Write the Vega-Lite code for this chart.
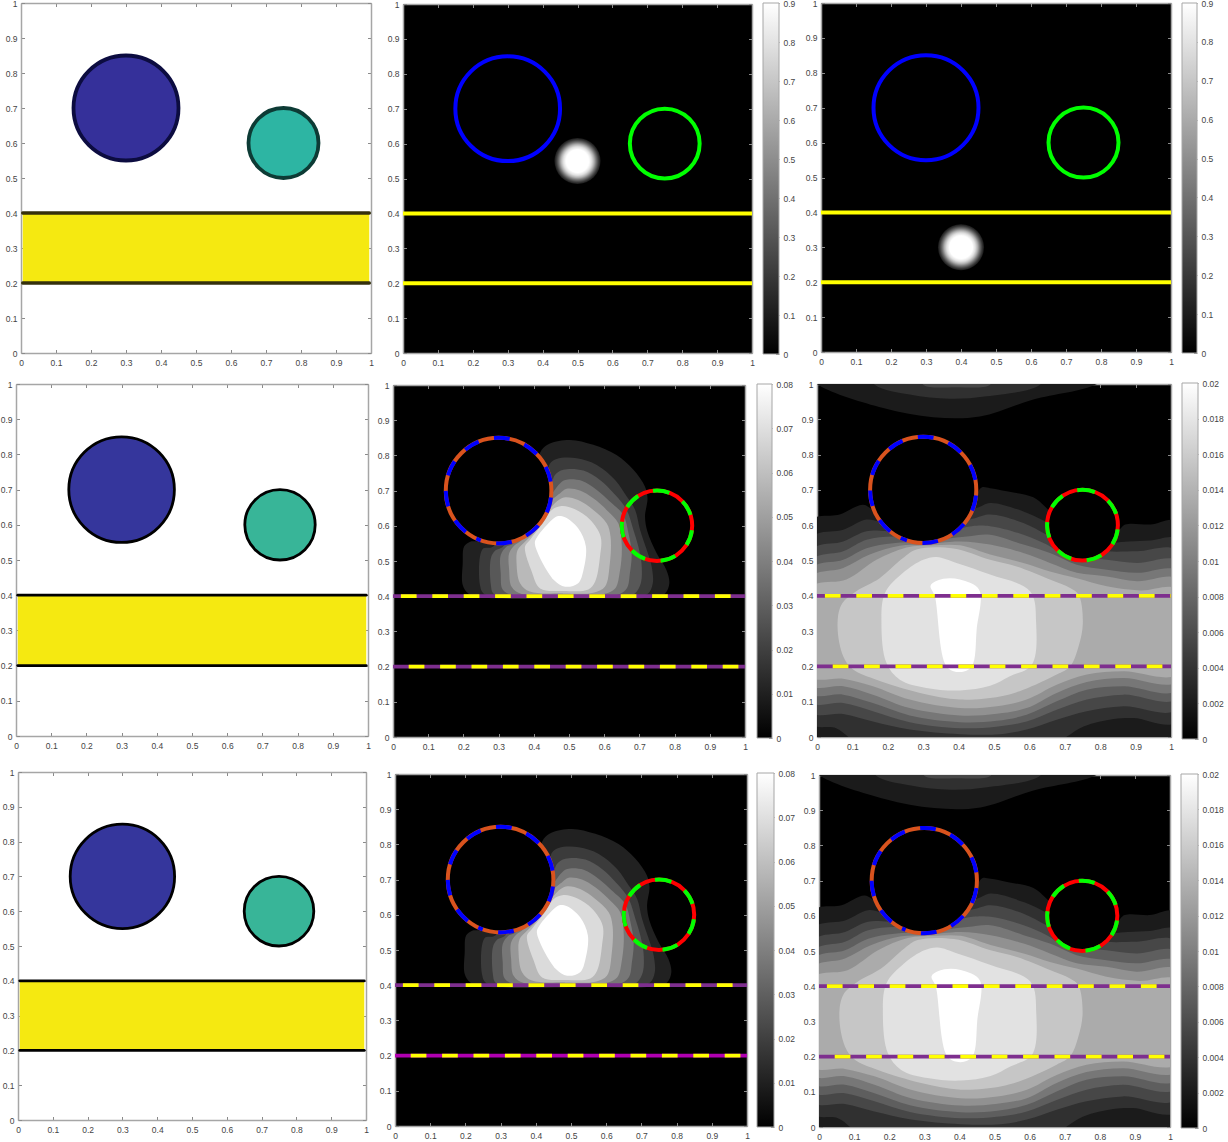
{"$schema":"https://vega.github.io/schema/vega-lite/v6.json","background":"white","padding":{"left":0,"top":-1,"right":0,"bottom":0},"spacing":0,"bounds":"flush",
"datasets":{
"frame":[{"x":0,"y":0},{"x":1,"y":1}],
"big":[{"x":0.3,"y":0.7}],"small":[{"x":0.75,"y":0.6}],
"b2":[{"x":0.5,"y":0.55}],"b3":[{"x":0.4,"y":0.3}],
"band":[{"x":0.005,"x2":0.995,"y":0.2,"y2":0.4}],
"edge":[{"x":0.005,"x2":0.995,"y":0.2},{"x":0.005,"x2":0.995,"y":0.4}],
"l2":[{"x":0,"x2":1,"y":0.2}],"l4":[{"x":0,"x2":1,"y":0.4}],"ll":[{"x":0,"x2":1,"y":0.2},{"x":0,"x2":1,"y":0.4}],
"ca":[
{"l":1.25,"x":0.422,"y":0.815},{"l":1.25,"x":0.446,"y":0.834},{"l":1.25,"x":0.503,"y":0.844},{"l":1.25,"x":0.569,"y":0.83},{"l":1.25,"x":0.635,"y":0.801},{"l":1.25,"x":0.683,"y":0.759},{"l":1.25,"x":0.716,"y":0.711},{"l":1.25,"x":0.723,"y":0.678},{"l":1.25,"x":0.716,"y":0.626},{"l":1.25,"x":0.723,"y":0.583},{"l":1.25,"x":0.749,"y":0.522},{"l":1.25,"x":0.777,"y":0.474},{"l":1.25,"x":0.785,"y":0.437},{"l":1.25,"x":0.773,"y":0.408},{"l":1.25,"x":0.73,"y":0.396},{"l":1.25,"x":0.541,"y":0.394},{"l":1.25,"x":0.257,"y":0.396},{"l":1.25,"x":0.214,"y":0.408},{"l":1.25,"x":0.198,"y":0.432},{"l":1.25,"x":0.198,"y":0.493},{"l":1.25,"x":0.202,"y":0.541},{"l":1.25,"x":0.219,"y":0.555},{"l":1.25,"x":0.257,"y":0.56},{"l":1.25,"x":0.351,"y":0.683},{"l":1.25,"x":0.408,"y":0.777},
{"l":2.5,"x":0.446,"y":0.777},{"l":2.5,"x":0.465,"y":0.79},{"l":2.5,"x":0.522,"y":0.792},{"l":2.5,"x":0.579,"y":0.773},{"l":2.5,"x":0.631,"y":0.73},{"l":2.5,"x":0.664,"y":0.683},{"l":2.5,"x":0.688,"y":0.645},{"l":2.5,"x":0.702,"y":0.588},{"l":2.5,"x":0.721,"y":0.531},{"l":2.5,"x":0.735,"y":0.484},{"l":2.5,"x":0.738,"y":0.437},{"l":2.5,"x":0.725,"y":0.408},{"l":2.5,"x":0.692,"y":0.399},{"l":2.5,"x":0.493,"y":0.396},{"l":2.5,"x":0.294,"y":0.399},{"l":2.5,"x":0.257,"y":0.408},{"l":2.5,"x":0.247,"y":0.432},{"l":2.5,"x":0.247,"y":0.512},{"l":2.5,"x":0.257,"y":0.536},{"l":2.5,"x":0.285,"y":0.541},{"l":2.5,"x":0.351,"y":0.683},{"l":2.5,"x":0.437,"y":0.749},
{"l":3.75,"x":0.46,"y":0.744},{"l":3.75,"x":0.484,"y":0.759},{"l":3.75,"x":0.541,"y":0.757},{"l":3.75,"x":0.588,"y":0.73},{"l":3.75,"x":0.631,"y":0.688},{"l":3.75,"x":0.664,"y":0.645},{"l":3.75,"x":0.683,"y":0.588},{"l":3.75,"x":0.697,"y":0.541},{"l":3.75,"x":0.706,"y":0.493},{"l":3.75,"x":0.704,"y":0.437},{"l":3.75,"x":0.687,"y":0.408},{"l":3.75,"x":0.654,"y":0.399},{"l":3.75,"x":0.493,"y":0.397},{"l":3.75,"x":0.323,"y":0.399},{"l":3.75,"x":0.285,"y":0.408},{"l":3.75,"x":0.278,"y":0.432},{"l":3.75,"x":0.278,"y":0.508},{"l":3.75,"x":0.29,"y":0.529},{"l":3.75,"x":0.313,"y":0.541},{"l":3.75,"x":0.37,"y":0.664},{"l":3.75,"x":0.446,"y":0.711},
{"l":5,"x":0.47,"y":0.716},{"l":5,"x":0.489,"y":0.73},{"l":5,"x":0.536,"y":0.728},{"l":5,"x":0.579,"y":0.702},{"l":5,"x":0.616,"y":0.669},{"l":5,"x":0.654,"y":0.631},{"l":5,"x":0.669,"y":0.579},{"l":5,"x":0.678,"y":0.522},{"l":5,"x":0.673,"y":0.465},{"l":5,"x":0.664,"y":0.422},{"l":5,"x":0.635,"y":0.403},{"l":5,"x":0.493,"y":0.401},{"l":5,"x":0.342,"y":0.403},{"l":5,"x":0.312,"y":0.418},{"l":5,"x":0.306,"y":0.465},{"l":5,"x":0.306,"y":0.517},{"l":5,"x":0.323,"y":0.541},{"l":5,"x":0.342,"y":0.55},{"l":5,"x":0.389,"y":0.654},{"l":5,"x":0.451,"y":0.692},
{"l":6.25,"x":0.474,"y":0.692},{"l":6.25,"x":0.493,"y":0.705},{"l":6.25,"x":0.531,"y":0.7},{"l":6.25,"x":0.569,"y":0.678},{"l":6.25,"x":0.612,"y":0.64},{"l":6.25,"x":0.64,"y":0.607},{"l":6.25,"x":0.65,"y":0.541},{"l":6.25,"x":0.645,"y":0.474},{"l":6.25,"x":0.631,"y":0.422},{"l":6.25,"x":0.598,"y":0.406},{"l":6.25,"x":0.493,"y":0.403},{"l":6.25,"x":0.366,"y":0.406},{"l":6.25,"x":0.337,"y":0.427},{"l":6.25,"x":0.33,"y":0.474},{"l":6.25,"x":0.33,"y":0.522},{"l":6.25,"x":0.347,"y":0.546},{"l":6.25,"x":0.366,"y":0.56},{"l":6.25,"x":0.408,"y":0.626},{"l":6.25,"x":0.456,"y":0.678},
{"l":7.5,"x":0.465,"y":0.669},{"l":7.5,"x":0.489,"y":0.681},{"l":7.5,"x":0.526,"y":0.673},{"l":7.5,"x":0.569,"y":0.645},{"l":7.5,"x":0.607,"y":0.607},{"l":7.5,"x":0.618,"y":0.569},{"l":7.5,"x":0.616,"y":0.493},{"l":7.5,"x":0.602,"y":0.427},{"l":7.5,"x":0.569,"y":0.41},{"l":7.5,"x":0.484,"y":0.408},{"l":7.5,"x":0.389,"y":0.413},{"l":7.5,"x":0.361,"y":0.437},{"l":7.5,"x":0.351,"y":0.493},{"l":7.5,"x":0.354,"y":0.531},{"l":7.5,"x":0.375,"y":0.555},{"l":7.5,"x":0.399,"y":0.579},{"l":7.5,"x":0.437,"y":0.635},
{"l":8.75,"x":0.451,"y":0.645},{"l":8.75,"x":0.479,"y":0.656},{"l":8.75,"x":0.517,"y":0.647},{"l":8.75,"x":0.56,"y":0.617},{"l":8.75,"x":0.59,"y":0.569},{"l":8.75,"x":0.588,"y":0.512},{"l":8.75,"x":0.574,"y":0.441},{"l":8.75,"x":0.555,"y":0.419},{"l":8.75,"x":0.484,"y":0.415},{"l":8.75,"x":0.418,"y":0.422},{"l":8.75,"x":0.394,"y":0.47},{"l":8.75,"x":0.375,"y":0.541},{"l":8.75,"x":0.389,"y":0.56},{"l":8.75,"x":0.422,"y":0.602},
{"l":10,"x":0.456,"y":0.621},{"l":10,"x":0.47,"y":0.628},{"l":10,"x":0.489,"y":0.624},{"l":10,"x":0.526,"y":0.593},{"l":10,"x":0.548,"y":0.541},{"l":10,"x":0.541,"y":0.474},{"l":10,"x":0.526,"y":0.437},{"l":10,"x":0.489,"y":0.427},{"l":10,"x":0.457,"y":0.446},{"l":10,"x":0.403,"y":0.55},{"l":10,"x":0.41,"y":0.569}
],
"cb":[
{"p":1,"l":1,"x":-0.02,"y":0.611},{"p":1,"l":1,"x":0.064,"y":0.63},{"p":1,"l":1,"x":0.13,"y":0.658},{"p":1,"l":1,"x":0.168,"y":0.639},{"p":1,"l":1,"x":0.299,"y":0.63},{"p":1,"l":1,"x":0.442,"y":0.677},{"p":1,"l":1,"x":0.465,"y":0.707},{"p":1,"l":1,"x":0.489,"y":0.705},{"p":1,"l":1,"x":0.536,"y":0.696},{"p":1,"l":1,"x":0.611,"y":0.679},{"p":1,"l":1,"x":0.644,"y":0.653},{"p":1,"l":1,"x":0.706,"y":0.592},{"p":1,"l":1,"x":0.847,"y":0.583},{"p":1,"l":1,"x":0.871,"y":0.602},{"p":1,"l":1,"x":0.942,"y":0.602},{"p":1,"l":1,"x":1.02,"y":0.609},{"p":1,"l":1,"x":1.05,"y":-0.05},{"p":1,"l":1,"x":-0.05,"y":-0.05},
{"p":2,"l":2,"x":-0.02,"y":0.561},{"p":2,"l":2,"x":0.074,"y":0.587},{"p":2,"l":2,"x":0.14,"y":0.616},{"p":2,"l":2,"x":0.177,"y":0.611},{"p":2,"l":2,"x":0.299,"y":0.611},{"p":2,"l":2,"x":0.451,"y":0.649},{"p":2,"l":2,"x":0.489,"y":0.663},{"p":2,"l":2,"x":0.583,"y":0.639},{"p":2,"l":2,"x":0.644,"y":0.611},{"p":2,"l":2,"x":0.75,"y":0.55},{"p":2,"l":2,"x":0.88,"y":0.554},{"p":2,"l":2,"x":0.942,"y":0.557},{"p":2,"l":2,"x":1.02,"y":0.559},{"p":2,"l":2,"x":1.02,"y":0.044},{"p":2,"l":2,"x":0.894,"y":0.054},{"p":2,"l":2,"x":0.838,"y":0.051},{"p":2,"l":2,"x":0.753,"y":0.03},{"p":2,"l":2,"x":0.658,"y":-0.02},{"p":2,"l":2,"x":0.126,"y":-0.02},{"p":2,"l":2,"x":0.054,"y":0.025},{"p":2,"l":2,"x":-0.02,"y":0.04},
{"p":3,"l":3,"x":-0.02,"y":0.526},{"p":3,"l":3,"x":0.074,"y":0.554},{"p":3,"l":3,"x":0.14,"y":0.583},{"p":3,"l":3,"x":0.201,"y":0.583},{"p":3,"l":3,"x":0.299,"y":0.583},{"p":3,"l":3,"x":0.446,"y":0.62},{"p":3,"l":3,"x":0.489,"y":0.63},{"p":3,"l":3,"x":0.583,"y":0.606},{"p":3,"l":3,"x":0.649,"y":0.573},{"p":3,"l":3,"x":0.72,"y":0.54},{"p":3,"l":3,"x":0.819,"y":0.526},{"p":3,"l":3,"x":0.904,"y":0.526},{"p":3,"l":3,"x":1.02,"y":0.526},{"p":3,"l":3,"x":1.02,"y":0.08},{"p":3,"l":3,"x":0.866,"y":0.087},{"p":3,"l":3,"x":0.762,"y":0.073},{"p":3,"l":3,"x":0.677,"y":0.049},{"p":3,"l":3,"x":0.592,"y":0.021},{"p":3,"l":3,"x":0.517,"y":0.008},{"p":3,"l":3,"x":0.404,"y":0.008},{"p":3,"l":3,"x":0.262,"y":0.021},{"p":3,"l":3,"x":0.158,"y":0.044},{"p":3,"l":3,"x":0.074,"y":0.065},{"p":3,"l":3,"x":-0.02,"y":0.073},
{"p":4,"l":4,"x":-0.02,"y":0.497},{"p":4,"l":4,"x":0.074,"y":0.526},{"p":4,"l":4,"x":0.14,"y":0.559},{"p":4,"l":4,"x":0.215,"y":0.568},{"p":4,"l":4,"x":0.299,"y":0.564},{"p":4,"l":4,"x":0.437,"y":0.597},{"p":4,"l":4,"x":0.489,"y":0.597},{"p":4,"l":4,"x":0.583,"y":0.573},{"p":4,"l":4,"x":0.649,"y":0.545},{"p":4,"l":4,"x":0.696,"y":0.517},{"p":4,"l":4,"x":0.819,"y":0.502},{"p":4,"l":4,"x":0.904,"y":0.493},{"p":4,"l":4,"x":1.02,"y":0.497},{"p":4,"l":4,"x":1.02,"y":0.11},{"p":4,"l":4,"x":0.866,"y":0.12},{"p":4,"l":4,"x":0.762,"y":0.106},{"p":4,"l":4,"x":0.677,"y":0.077},{"p":4,"l":4,"x":0.592,"y":0.044},{"p":4,"l":4,"x":0.506,"y":0.029},{"p":4,"l":4,"x":0.404,"y":0.025},{"p":4,"l":4,"x":0.262,"y":0.042},{"p":4,"l":4,"x":0.158,"y":0.073},{"p":4,"l":4,"x":0.074,"y":0.096},{"p":4,"l":4,"x":-0.02,"y":0.101},
{"p":5,"l":5,"x":-0.02,"y":0.474},{"p":5,"l":5,"x":0.074,"y":0.502},{"p":5,"l":5,"x":0.14,"y":0.535},{"p":5,"l":5,"x":0.215,"y":0.549},{"p":5,"l":5,"x":0.299,"y":0.554},{"p":5,"l":5,"x":0.423,"y":0.568},{"p":5,"l":5,"x":0.489,"y":0.573},{"p":5,"l":5,"x":0.583,"y":0.545},{"p":5,"l":5,"x":0.658,"y":0.521},{"p":5,"l":5,"x":0.734,"y":0.488},{"p":5,"l":5,"x":0.819,"y":0.474},{"p":5,"l":5,"x":0.904,"y":0.465},{"p":5,"l":5,"x":1.02,"y":0.469},{"p":5,"l":5,"x":1.02,"y":0.134},{"p":5,"l":5,"x":0.866,"y":0.144},{"p":5,"l":5,"x":0.762,"y":0.134},{"p":5,"l":5,"x":0.677,"y":0.101},{"p":5,"l":5,"x":0.592,"y":0.063},{"p":5,"l":5,"x":0.508,"y":0.046},{"p":5,"l":5,"x":0.404,"y":0.042},{"p":5,"l":5,"x":0.262,"y":0.061},{"p":5,"l":5,"x":0.158,"y":0.096},{"p":5,"l":5,"x":0.074,"y":0.12},{"p":5,"l":5,"x":-0.02,"y":0.125},
{"p":6,"l":6,"x":-0.02,"y":0.45},{"p":6,"l":6,"x":0.074,"y":0.479},{"p":6,"l":6,"x":0.149,"y":0.517},{"p":6,"l":6,"x":0.234,"y":0.542},{"p":6,"l":6,"x":0.299,"y":0.545},{"p":6,"l":6,"x":0.404,"y":0.554},{"p":6,"l":6,"x":0.489,"y":0.545},{"p":6,"l":6,"x":0.583,"y":0.521},{"p":6,"l":6,"x":0.658,"y":0.493},{"p":6,"l":6,"x":0.734,"y":0.465},{"p":6,"l":6,"x":0.819,"y":0.455},{"p":6,"l":6,"x":0.904,"y":0.441},{"p":6,"l":6,"x":1.02,"y":0.446},{"p":6,"l":6,"x":1.02,"y":0.158},{"p":6,"l":6,"x":0.866,"y":0.167},{"p":6,"l":6,"x":0.762,"y":0.156},{"p":6,"l":6,"x":0.677,"y":0.125},{"p":6,"l":6,"x":0.592,"y":0.082},{"p":6,"l":6,"x":0.508,"y":0.066},{"p":6,"l":6,"x":0.404,"y":0.061},{"p":6,"l":6,"x":0.262,"y":0.082},{"p":6,"l":6,"x":0.158,"y":0.12},{"p":6,"l":6,"x":0.074,"y":0.144},{"p":6,"l":6,"x":-0.02,"y":0.148},
{"p":7,"l":7,"x":-0.02,"y":0.422},{"p":7,"l":7,"x":0.083,"y":0.446},{"p":7,"l":7,"x":0.168,"y":0.502},{"p":7,"l":7,"x":0.253,"y":0.537},{"p":7,"l":7,"x":0.328,"y":0.543},{"p":7,"l":7,"x":0.404,"y":0.543},{"p":7,"l":7,"x":0.489,"y":0.517},{"p":7,"l":7,"x":0.583,"y":0.493},{"p":7,"l":7,"x":0.658,"y":0.469},{"p":7,"l":7,"x":0.734,"y":0.45},{"p":7,"l":7,"x":0.819,"y":0.427},{"p":7,"l":7,"x":0.913,"y":0.415},{"p":7,"l":7,"x":1.02,"y":0.417},{"p":7,"l":7,"x":1.02,"y":0.179},{"p":7,"l":7,"x":0.866,"y":0.186},{"p":7,"l":7,"x":0.762,"y":0.177},{"p":7,"l":7,"x":0.677,"y":0.148},{"p":7,"l":7,"x":0.592,"y":0.106},{"p":7,"l":7,"x":0.508,"y":0.087},{"p":7,"l":7,"x":0.404,"y":0.082},{"p":7,"l":7,"x":0.262,"y":0.106},{"p":7,"l":7,"x":0.158,"y":0.144},{"p":7,"l":7,"x":0.074,"y":0.165},{"p":7,"l":7,"x":-0.02,"y":0.172},
{"p":8,"l":8,"x":0.058,"y":0.314},{"p":8,"l":8,"x":0.069,"y":0.375},{"p":8,"l":8,"x":0.111,"y":0.413},{"p":8,"l":8,"x":0.177,"y":0.45},{"p":8,"l":8,"x":0.243,"y":0.507},{"p":8,"l":8,"x":0.281,"y":0.531},{"p":8,"l":8,"x":0.385,"y":0.534},{"p":8,"l":8,"x":0.489,"y":0.502},{"p":8,"l":8,"x":0.564,"y":0.483},{"p":8,"l":8,"x":0.658,"y":0.446},{"p":8,"l":8,"x":0.715,"y":0.422},{"p":8,"l":8,"x":0.739,"y":0.403},{"p":8,"l":8,"x":0.751,"y":0.323},{"p":8,"l":8,"x":0.739,"y":0.257},{"p":8,"l":8,"x":0.715,"y":0.2},{"p":8,"l":8,"x":0.677,"y":0.177},{"p":8,"l":8,"x":0.583,"y":0.134},{"p":8,"l":8,"x":0.517,"y":0.115},{"p":8,"l":8,"x":0.404,"y":0.106},{"p":8,"l":8,"x":0.291,"y":0.125},{"p":8,"l":8,"x":0.168,"y":0.162},{"p":8,"l":8,"x":0.102,"y":0.191},{"p":8,"l":8,"x":0.074,"y":0.229},
{"p":9,"l":9,"x":0.182,"y":0.323},{"p":9,"l":9,"x":0.192,"y":0.408},{"p":9,"l":9,"x":0.243,"y":0.465},{"p":9,"l":9,"x":0.3,"y":0.502},{"p":9,"l":9,"x":0.338,"y":0.51},{"p":9,"l":9,"x":0.394,"y":0.493},{"p":9,"l":9,"x":0.489,"y":0.46},{"p":9,"l":9,"x":0.602,"y":0.413},{"p":9,"l":9,"x":0.619,"y":0.323},{"p":9,"l":9,"x":0.607,"y":0.205},{"p":9,"l":9,"x":0.545,"y":0.172},{"p":9,"l":9,"x":0.489,"y":0.145},{"p":9,"l":9,"x":0.404,"y":0.132},{"p":9,"l":9,"x":0.309,"y":0.139},{"p":9,"l":9,"x":0.234,"y":0.162},{"p":9,"l":9,"x":0.196,"y":0.21},
{"p":10,"l":10,"x":0.321,"y":0.429},{"p":10,"l":10,"x":0.357,"y":0.448},{"p":10,"l":10,"x":0.404,"y":0.446},{"p":10,"l":10,"x":0.458,"y":0.417},{"p":10,"l":10,"x":0.451,"y":0.304},{"p":10,"l":10,"x":0.437,"y":0.2},{"p":10,"l":10,"x":0.404,"y":0.184},{"p":10,"l":10,"x":0.366,"y":0.2},{"p":10,"l":10,"x":0.333,"y":0.398},
{"p":11,"l":1,"x":0.003,"y":0.998},{"p":11,"l":1,"x":0.187,"y":0.932},{"p":11,"l":1,"x":0.328,"y":0.906},{"p":11,"l":1,"x":0.46,"y":0.908},{"p":11,"l":1,"x":0.611,"y":0.956},{"p":11,"l":1,"x":0.791,"y":1.0},{"p":11,"l":1,"x":0.85,"y":1.05},{"p":11,"l":1,"x":-0.05,"y":1.05},
{"p":12,"l":2,"x":0.163,"y":0.998},{"p":12,"l":2,"x":0.262,"y":0.97},{"p":12,"l":2,"x":0.375,"y":0.958},{"p":12,"l":2,"x":0.479,"y":0.965},{"p":12,"l":2,"x":0.63,"y":0.998},{"p":12,"l":2,"x":0.65,"y":1.04},{"p":12,"l":2,"x":0.14,"y":1.04},
{"p":13,"l":3,"x":0.3,"y":0.998},{"p":13,"l":3,"x":0.394,"y":0.991},{"p":13,"l":3,"x":0.489,"y":0.998},{"p":13,"l":3,"x":0.5,"y":1.03},{"p":13,"l":3,"x":0.29,"y":1.03}
]
},
"config":{"view":{"stroke":null},"axis":{"grid":false,"title":null,"tickSize":-3.5,"tickColor":"#8a8a8a","tickWidth":1,"domainColor":"#a6a6a6","domainWidth":1.5,"labelColor":"#444444","labelFontSize":8.5,"labelFont":"Liberation Sans","labelOverlap":false,"labelFlush":false,"zindex":1},"axisX":{"labelPadding":8.5},"axisY":{"labelPadding":7.5}},
"vconcat":[
{"data":{"values":[]},"mark":"rect","width":1,"height":3},
{"hconcat":[
{"data":{"values":[]},"mark":"rect","width":21,"height":1},
{"vconcat":[{"width":350,"height":350,"encoding":{"x":{"field":"x","type":"quantitative","scale":{"domain":[0,1]},"axis":null},"y":{"field":"y","type":"quantitative","scale":{"domain":[0,1]},"axis":null}},"resolve":{"axis":{"x":"independent","y":"independent"}},"layer":[
{"data":{"name":"band"},"mark":{"type":"rect","fill":"#f5e911"},"encoding":{"x2":{"field":"x2"},"y2":{"field":"y2"}}},
{"data":{"name":"edge"},"mark":{"type":"rule","stroke":"#35300c","strokeWidth":3.5,"strokeCap":"round"},"encoding":{"x2":{"field":"x2"}}},
{"data":{"name":"big"},"mark":{"type":"point","filled":true,"fill":"#35309a","stroke":"#0c0c40","strokeWidth":3.8,"size":11025,"opacity":1}},
{"data":{"name":"small"},"mark":{"type":"point","filled":true,"fill":"#2db5a3","stroke":"#0d3b35","strokeWidth":3.8,"size":4900,"opacity":1}},
{"data":{"name":"frame"},"mark":{"type":"point","opacity":0},"encoding":{"x":{"field":"x","type":"quantitative","scale":{"domain":[0,1]},"axis":{"values":[0,0.1,0.2,0.3,0.4,0.5,0.6,0.7,0.8,0.9,1],"format":"~g"}},"y":{"field":"y","type":"quantitative","scale":{"domain":[0,1]},"axis":{"values":[0,0.1,0.2,0.3,0.4,0.5,0.6,0.7,0.8,0.9,1],"format":"~g"}}}},
{"data":{"name":"frame"},"mark":{"type":"point","opacity":0},"encoding":{"x":{"field":"x","type":"quantitative","scale":{"domain":[0,1]},"axis":{"orient":"top","labels":false,"values":[0,0.1,0.2,0.3,0.4,0.5,0.6,0.7,0.8,0.9,1]}},"y":{"field":"y","type":"quantitative","scale":{"domain":[0,1]},"axis":{"orient":"right","labels":false,"values":[0,0.1,0.2,0.3,0.4,0.5,0.6,0.7,0.8,0.9,1]}}}}
]}],"spacing":0,"bounds":"flush"},
{"data":{"values":[]},"mark":"rect","width":382,"height":1},
{"vconcat":[{"data":{"values":[]},"mark":"rect","width":1,"height":1},{"width":349,"height":349,"view":{"fill":"#000000"},"encoding":{"x":{"field":"x","type":"quantitative","scale":{"domain":[0,1]},"axis":null},"y":{"field":"y","type":"quantitative","scale":{"domain":[0,1]},"axis":null}},"resolve":{"axis":{"x":"independent","y":"independent"}},"layer":[
{"data":{"name":"b2"},"mark":{"type":"point","filled":true,"size":2116,"opacity":1,"stroke":null,"fill":{"gradient":"radial","x1":0.5,"y1":0.5,"x2":0.5,"y2":0.5,"r1":0,"r2":0.5,"stops":[{"offset":0,"color":"#ffffff"},{"offset":0.5,"color":"#ffffff"},{"offset":0.62,"color":"#e0e0e0"},{"offset":0.72,"color":"#b0b0b0"},{"offset":0.82,"color":"#707070"},{"offset":0.92,"color":"#383838"},{"offset":1,"color":"#181818"}]}}},
{"data":{"name":"big"},"mark":{"type":"point","filled":false,"stroke":"#0000ff","strokeWidth":4,"size":10962,"opacity":1}},
{"data":{"name":"small"},"mark":{"type":"point","filled":false,"stroke":"#00ff00","strokeWidth":4,"size":4872,"opacity":1}},
{"data":{"name":"ll"},"mark":{"type":"rule","stroke":"#ffff00","strokeWidth":4},"encoding":{"x2":{"field":"x2"}}},
{"data":{"name":"frame"},"mark":{"type":"point","opacity":0},"encoding":{"x":{"field":"x","type":"quantitative","scale":{"domain":[0,1]},"axis":{"values":[0,0.1,0.2,0.3,0.4,0.5,0.6,0.7,0.8,0.9,1],"format":"~g"}},"y":{"field":"y","type":"quantitative","scale":{"domain":[0,1]},"axis":{"values":[0,0.1,0.2,0.3,0.4,0.5,0.6,0.7,0.8,0.9,1],"format":"~g"}}}},
{"data":{"name":"frame"},"mark":{"type":"point","opacity":0},"encoding":{"x":{"field":"x","type":"quantitative","scale":{"domain":[0,1]},"axis":{"orient":"top","labels":false,"values":[0,0.1,0.2,0.3,0.4,0.5,0.6,0.7,0.8,0.9,1]}},"y":{"field":"y","type":"quantitative","scale":{"domain":[0,1]},"axis":{"orient":"right","labels":false,"values":[0,0.1,0.2,0.3,0.4,0.5,0.6,0.7,0.8,0.9,1]}}}}
]}],"spacing":0,"bounds":"flush"},
{"data":{"values":[]},"mark":"rect","width":360,"height":1},
{"vconcat":[{"width":16,"height":351,"data":{"values":[{"a":0,"b":1,"lo":0,"hi":0.9}]},"mark":{"type":"rect","stroke":"#a6a6a6","strokeWidth":1,"color":{"gradient":"linear","x1":0,"y1":1,"x2":0,"y2":0,"stops":[{"offset":0,"color":"#000000"},{"offset":1,"color":"#ffffff"}]}},"encoding":{"x":{"field":"a","type":"quantitative","scale":{"domain":[0,1]},"axis":null},"x2":{"field":"b"},"y":{"field":"lo","type":"quantitative","scale":{"domain":[0,0.9]},"axis":{"orient":"right","domain":false,"values":[0,0.1,0.2,0.3,0.4,0.5,0.6,0.7,0.8,0.9],"format":"~g"}},"y2":{"field":"hi"}}}],"spacing":0,"bounds":"flush"},
{"data":{"values":[]},"mark":"rect","width":58,"height":1},
{"vconcat":[{"width":350,"height":349,"view":{"fill":"#000000"},"encoding":{"x":{"field":"x","type":"quantitative","scale":{"domain":[0,1]},"axis":null},"y":{"field":"y","type":"quantitative","scale":{"domain":[0,1]},"axis":null}},"resolve":{"axis":{"x":"independent","y":"independent"}},"layer":[
{"data":{"name":"b3"},"mark":{"type":"point","filled":true,"size":2116,"opacity":1,"stroke":null,"fill":{"gradient":"radial","x1":0.5,"y1":0.5,"x2":0.5,"y2":0.5,"r1":0,"r2":0.5,"stops":[{"offset":0,"color":"#ffffff"},{"offset":0.5,"color":"#ffffff"},{"offset":0.62,"color":"#e0e0e0"},{"offset":0.72,"color":"#b0b0b0"},{"offset":0.82,"color":"#707070"},{"offset":0.92,"color":"#383838"},{"offset":1,"color":"#181818"}]}}},
{"data":{"name":"big"},"mark":{"type":"point","filled":false,"stroke":"#0000ff","strokeWidth":4,"size":11025,"opacity":1}},
{"data":{"name":"small"},"mark":{"type":"point","filled":false,"stroke":"#00ff00","strokeWidth":4,"size":4900,"opacity":1}},
{"data":{"name":"ll"},"mark":{"type":"rule","stroke":"#ffff00","strokeWidth":4},"encoding":{"x2":{"field":"x2"}}},
{"data":{"name":"frame"},"mark":{"type":"point","opacity":0},"encoding":{"x":{"field":"x","type":"quantitative","scale":{"domain":[0,1]},"axis":{"values":[0,0.1,0.2,0.3,0.4,0.5,0.6,0.7,0.8,0.9,1],"format":"~g"}},"y":{"field":"y","type":"quantitative","scale":{"domain":[0,1]},"axis":{"values":[0,0.1,0.2,0.3,0.4,0.5,0.6,0.7,0.8,0.9,1],"format":"~g"}}}},
{"data":{"name":"frame"},"mark":{"type":"point","opacity":0},"encoding":{"x":{"field":"x","type":"quantitative","scale":{"domain":[0,1]},"axis":{"orient":"top","labels":false,"values":[0,0.1,0.2,0.3,0.4,0.5,0.6,0.7,0.8,0.9,1]}},"y":{"field":"y","type":"quantitative","scale":{"domain":[0,1]},"axis":{"orient":"right","labels":false,"values":[0,0.1,0.2,0.3,0.4,0.5,0.6,0.7,0.8,0.9,1]}}}}
]}],"spacing":0,"bounds":"flush"},
{"data":{"values":[]},"mark":"rect","width":361,"height":1},
{"vconcat":[{"width":15,"height":350,"data":{"values":[{"a":0,"b":1,"lo":0,"hi":0.9}]},"mark":{"type":"rect","stroke":"#a6a6a6","strokeWidth":1,"color":{"gradient":"linear","x1":0,"y1":1,"x2":0,"y2":0,"stops":[{"offset":0,"color":"#000000"},{"offset":1,"color":"#ffffff"}]}},"encoding":{"x":{"field":"a","type":"quantitative","scale":{"domain":[0,1]},"axis":null},"x2":{"field":"b"},"y":{"field":"lo","type":"quantitative","scale":{"domain":[0,0.9]},"axis":{"orient":"right","domain":false,"values":[0,0.1,0.2,0.3,0.4,0.5,0.6,0.7,0.8,0.9],"format":"~g"}},"y2":{"field":"hi"}}}],"spacing":0,"bounds":"flush"}
],"spacing":0,"bounds":"flush"},
{"data":{"values":[]},"mark":"rect","width":1,"height":380},
{"hconcat":[
{"data":{"values":[]},"mark":"rect","width":16,"height":1},
{"vconcat":[{"data":{"values":[]},"mark":"rect","width":1,"height":1},{"width":352,"height":352,"encoding":{"x":{"field":"x","type":"quantitative","scale":{"domain":[0,1]},"axis":null},"y":{"field":"y","type":"quantitative","scale":{"domain":[0,1]},"axis":null}},"resolve":{"axis":{"x":"independent","y":"independent"}},"layer":[
{"data":{"name":"band"},"mark":{"type":"rect","fill":"#f5e911"},"encoding":{"x2":{"field":"x2"},"y2":{"field":"y2"}}},
{"data":{"name":"edge"},"mark":{"type":"rule","stroke":"#000000","strokeWidth":2.8,"strokeCap":"round"},"encoding":{"x2":{"field":"x2"}}},
{"data":{"name":"big"},"mark":{"type":"point","filled":true,"fill":"#35369c","stroke":"#000000","strokeWidth":2.8,"size":11151,"opacity":1}},
{"data":{"name":"small"},"mark":{"type":"point","filled":true,"fill":"#38b598","stroke":"#000000","strokeWidth":2.8,"size":4956,"opacity":1}},
{"data":{"name":"frame"},"mark":{"type":"point","opacity":0},"encoding":{"x":{"field":"x","type":"quantitative","scale":{"domain":[0,1]},"axis":{"values":[0,0.1,0.2,0.3,0.4,0.5,0.6,0.7,0.8,0.9,1],"format":"~g"}},"y":{"field":"y","type":"quantitative","scale":{"domain":[0,1]},"axis":{"values":[0,0.1,0.2,0.3,0.4,0.5,0.6,0.7,0.8,0.9,1],"format":"~g"}}}},
{"data":{"name":"frame"},"mark":{"type":"point","opacity":0},"encoding":{"x":{"field":"x","type":"quantitative","scale":{"domain":[0,1]},"axis":{"orient":"top","labels":false,"values":[0,0.1,0.2,0.3,0.4,0.5,0.6,0.7,0.8,0.9,1]}},"y":{"field":"y","type":"quantitative","scale":{"domain":[0,1]},"axis":{"orient":"right","labels":false,"values":[0,0.1,0.2,0.3,0.4,0.5,0.6,0.7,0.8,0.9,1]}}}}
]}],"spacing":0,"bounds":"flush"},
{"data":{"values":[]},"mark":"rect","width":377,"height":1},
{"vconcat":[{"data":{"values":[]},"mark":"rect","width":1,"height":2},{"width":352,"height":352,"view":{"fill":"#000000"},"encoding":{"x":{"field":"x","type":"quantitative","scale":{"domain":[0,1]},"axis":null},"y":{"field":"y","type":"quantitative","scale":{"domain":[0,1]},"axis":null}},"resolve":{"axis":{"x":"independent","y":"independent"}},"layer":[
{"data":{"name":"ca"},"mark":{"type":"line","order":null,"interpolate":"catmull-rom-closed","strokeWidth":0,"clip":true},"encoding":{"detail":{"field":"l"},"fill":{"field":"l","type":"quantitative","scale":{"domain":[0,10],"range":["#000000","#ffffff"]},"legend":null}}},
{"data":{"name":"big"},"mark":{"type":"point","filled":true,"fill":"#000000","stroke":"#d9531e","strokeWidth":4,"size":11151,"opacity":1}},
{"data":{"name":"big"},"mark":{"type":"point","filled":false,"stroke":"#0000ff","strokeWidth":4,"size":11151,"opacity":1,"angle":115,"strokeDash":[15.7,15.7],"strokeDashOffset":19}},
{"data":{"name":"small"},"mark":{"type":"point","filled":false,"stroke":"#ff0000","strokeWidth":4,"size":4956,"opacity":1}},
{"data":{"name":"small"},"mark":{"type":"point","filled":false,"stroke":"#00ff00","strokeWidth":4,"size":4956,"opacity":1,"angle":265,"strokeDash":[15.7,15.7]}},
{"data":{"name":"ll"},"mark":{"type":"rule","stroke":"#7e2f8e","strokeWidth":3.8},"encoding":{"x2":{"field":"x2"}}},
{"data":{"name":"l4"},"mark":{"type":"rule","stroke":"#ffff00","strokeWidth":3.8,"strokeDash":[15.7,15.7],"strokeDashOffset":23.5},"encoding":{"x2":{"field":"x2"}}},
{"data":{"name":"l2"},"mark":{"type":"rule","stroke":"#ffff00","strokeWidth":3.8,"strokeDash":[15.7,15.7],"strokeDashOffset":15.7},"encoding":{"x2":{"field":"x2"}}},
{"data":{"name":"frame"},"mark":{"type":"point","opacity":0},"encoding":{"x":{"field":"x","type":"quantitative","scale":{"domain":[0,1]},"axis":{"values":[0,0.1,0.2,0.3,0.4,0.5,0.6,0.7,0.8,0.9,1],"format":"~g"}},"y":{"field":"y","type":"quantitative","scale":{"domain":[0,1]},"axis":{"values":[0,0.1,0.2,0.3,0.4,0.5,0.6,0.7,0.8,0.9,1],"format":"~g"}}}},
{"data":{"name":"frame"},"mark":{"type":"point","opacity":0},"encoding":{"x":{"field":"x","type":"quantitative","scale":{"domain":[0,1]},"axis":{"orient":"top","labels":false,"values":[0,0.1,0.2,0.3,0.4,0.5,0.6,0.7,0.8,0.9,1]}},"y":{"field":"y","type":"quantitative","scale":{"domain":[0,1]},"axis":{"orient":"right","labels":false,"values":[0,0.1,0.2,0.3,0.4,0.5,0.6,0.7,0.8,0.9,1]}}}}
]}],"spacing":0,"bounds":"flush"},
{"data":{"values":[]},"mark":"rect","width":364,"height":1},
{"vconcat":[{"data":{"values":[]},"mark":"rect","width":1,"height":1},{"width":15,"height":354,"data":{"values":[{"a":0,"b":1,"lo":0,"hi":0.08}]},"mark":{"type":"rect","stroke":"#a6a6a6","strokeWidth":1,"color":{"gradient":"linear","x1":0,"y1":1,"x2":0,"y2":0,"stops":[{"offset":0,"color":"#000000"},{"offset":1,"color":"#ffffff"}]}},"encoding":{"x":{"field":"a","type":"quantitative","scale":{"domain":[0,1]},"axis":null},"x2":{"field":"b"},"y":{"field":"lo","type":"quantitative","scale":{"domain":[0,0.08]},"axis":{"orient":"right","domain":false,"values":[0,0.01,0.02,0.03,0.04,0.05,0.06,0.07,0.08],"format":"~g"}},"y2":{"field":"hi"}}}],"spacing":0,"bounds":"flush"},
{"data":{"values":[]},"mark":"rect","width":60,"height":1},
{"vconcat":[{"data":{"values":[]},"mark":"rect","width":1,"height":1},{"width":354,"height":353,"view":{"fill":"#000000"},"encoding":{"x":{"field":"x","type":"quantitative","scale":{"domain":[0,1]},"axis":null},"y":{"field":"y","type":"quantitative","scale":{"domain":[0,1]},"axis":null}},"resolve":{"axis":{"x":"independent","y":"independent"}},"layer":[
{"data":{"name":"cb"},"mark":{"type":"line","order":null,"interpolate":"catmull-rom-closed","strokeWidth":0,"clip":true},"encoding":{"detail":{"field":"p"},"fill":{"field":"l","type":"quantitative","scale":{"domain":[0,10],"range":["#000000","#ffffff"]},"legend":null}}},
{"data":{"name":"big"},"mark":{"type":"point","filled":true,"fill":"#000000","stroke":"#d9531e","strokeWidth":4,"size":11278,"opacity":1}},
{"data":{"name":"big"},"mark":{"type":"point","filled":false,"stroke":"#0000ff","strokeWidth":4,"size":11278,"opacity":1,"angle":115,"strokeDash":[15.7,15.7],"strokeDashOffset":19}},
{"data":{"name":"small"},"mark":{"type":"point","filled":true,"fill":"#000000","stroke":"#ff0000","strokeWidth":4,"size":5013,"opacity":1}},
{"data":{"name":"small"},"mark":{"type":"point","filled":false,"stroke":"#00ff00","strokeWidth":4,"size":5013,"opacity":1,"angle":265,"strokeDash":[15.7,15.7]}},
{"data":{"name":"ll"},"mark":{"type":"rule","stroke":"#7e2f8e","strokeWidth":3.8},"encoding":{"x2":{"field":"x2"}}},
{"data":{"name":"l4"},"mark":{"type":"rule","stroke":"#ffff00","strokeWidth":3.8,"strokeDash":[15.7,15.7],"strokeDashOffset":23.5},"encoding":{"x2":{"field":"x2"}}},
{"data":{"name":"l2"},"mark":{"type":"rule","stroke":"#ffff00","strokeWidth":3.8,"strokeDash":[15.7,15.7],"strokeDashOffset":15.7},"encoding":{"x2":{"field":"x2"}}},
{"data":{"name":"frame"},"mark":{"type":"point","opacity":0},"encoding":{"x":{"field":"x","type":"quantitative","scale":{"domain":[0,1]},"axis":{"values":[0,0.1,0.2,0.3,0.4,0.5,0.6,0.7,0.8,0.9,1],"format":"~g"}},"y":{"field":"y","type":"quantitative","scale":{"domain":[0,1]},"axis":{"values":[0,0.1,0.2,0.3,0.4,0.5,0.6,0.7,0.8,0.9,1],"format":"~g"}}}},
{"data":{"name":"frame"},"mark":{"type":"point","opacity":0},"encoding":{"x":{"field":"x","type":"quantitative","scale":{"domain":[0,1]},"axis":{"orient":"top","labels":false,"values":[0,0.1,0.2,0.3,0.4,0.5,0.6,0.7,0.8,0.9,1]}},"y":{"field":"y","type":"quantitative","scale":{"domain":[0,1]},"axis":{"orient":"right","labels":false,"values":[0,0.1,0.2,0.3,0.4,0.5,0.6,0.7,0.8,0.9,1]}}}}
]}],"spacing":0,"bounds":"flush"},
{"data":{"values":[]},"mark":"rect","width":365,"height":1},
{"vconcat":[{"width":16,"height":356,"data":{"values":[{"a":0,"b":1,"lo":0,"hi":0.02}]},"mark":{"type":"rect","stroke":"#a6a6a6","strokeWidth":1,"color":{"gradient":"linear","x1":0,"y1":1,"x2":0,"y2":0,"stops":[{"offset":0,"color":"#000000"},{"offset":1,"color":"#ffffff"}]}},"encoding":{"x":{"field":"a","type":"quantitative","scale":{"domain":[0,1]},"axis":null},"x2":{"field":"b"},"y":{"field":"lo","type":"quantitative","scale":{"domain":[0,0.02]},"axis":{"orient":"right","domain":false,"values":[0,0.002,0.004,0.006,0.008,0.01,0.012,0.014,0.016,0.018,0.02],"format":"~g"}},"y2":{"field":"hi"}}}],"spacing":0,"bounds":"flush"}
],"spacing":0,"bounds":"flush"},
{"data":{"values":[]},"mark":"rect","width":1,"height":389},
{"hconcat":[
{"data":{"values":[]},"mark":"rect","width":18,"height":1},
{"vconcat":[{"width":348,"height":348,"encoding":{"x":{"field":"x","type":"quantitative","scale":{"domain":[0,1]},"axis":null},"y":{"field":"y","type":"quantitative","scale":{"domain":[0,1]},"axis":null}},"resolve":{"axis":{"x":"independent","y":"independent"}},"layer":[
{"data":{"name":"band"},"mark":{"type":"rect","fill":"#f5e911"},"encoding":{"x2":{"field":"x2"},"y2":{"field":"y2"}}},
{"data":{"name":"edge"},"mark":{"type":"rule","stroke":"#000000","strokeWidth":2.8,"strokeCap":"round"},"encoding":{"x2":{"field":"x2"}}},
{"data":{"name":"big"},"mark":{"type":"point","filled":true,"fill":"#35369c","stroke":"#000000","strokeWidth":2.8,"size":10899,"opacity":1}},
{"data":{"name":"small"},"mark":{"type":"point","filled":true,"fill":"#38b598","stroke":"#000000","strokeWidth":2.8,"size":4844,"opacity":1}},
{"data":{"name":"frame"},"mark":{"type":"point","opacity":0},"encoding":{"x":{"field":"x","type":"quantitative","scale":{"domain":[0,1]},"axis":{"values":[0,0.1,0.2,0.3,0.4,0.5,0.6,0.7,0.8,0.9,1],"format":"~g"}},"y":{"field":"y","type":"quantitative","scale":{"domain":[0,1]},"axis":{"values":[0,0.1,0.2,0.3,0.4,0.5,0.6,0.7,0.8,0.9,1],"format":"~g"}}}},
{"data":{"name":"frame"},"mark":{"type":"point","opacity":0},"encoding":{"x":{"field":"x","type":"quantitative","scale":{"domain":[0,1]},"axis":{"orient":"top","labels":false,"values":[0,0.1,0.2,0.3,0.4,0.5,0.6,0.7,0.8,0.9,1]}},"y":{"field":"y","type":"quantitative","scale":{"domain":[0,1]},"axis":{"orient":"right","labels":false,"values":[0,0.1,0.2,0.3,0.4,0.5,0.6,0.7,0.8,0.9,1]}}}}
]}],"spacing":0,"bounds":"flush"},
{"data":{"values":[]},"mark":"rect","width":377,"height":1},
{"vconcat":[{"data":{"values":[]},"mark":"rect","width":1,"height":2},{"width":352,"height":352,"view":{"fill":"#000000"},"encoding":{"x":{"field":"x","type":"quantitative","scale":{"domain":[0,1]},"axis":null},"y":{"field":"y","type":"quantitative","scale":{"domain":[0,1]},"axis":null}},"resolve":{"axis":{"x":"independent","y":"independent"}},"layer":[
{"data":{"name":"ca"},"mark":{"type":"line","order":null,"interpolate":"catmull-rom-closed","strokeWidth":0,"clip":true},"encoding":{"detail":{"field":"l"},"fill":{"field":"l","type":"quantitative","scale":{"domain":[0,10],"range":["#000000","#ffffff"]},"legend":null}}},
{"data":{"name":"big"},"mark":{"type":"point","filled":true,"fill":"#000000","stroke":"#d9531e","strokeWidth":4,"size":11151,"opacity":1}},
{"data":{"name":"big"},"mark":{"type":"point","filled":false,"stroke":"#0000ff","strokeWidth":4,"size":11151,"opacity":1,"angle":115,"strokeDash":[15.7,15.7],"strokeDashOffset":19}},
{"data":{"name":"small"},"mark":{"type":"point","filled":false,"stroke":"#ff0000","strokeWidth":4,"size":4956,"opacity":1}},
{"data":{"name":"small"},"mark":{"type":"point","filled":false,"stroke":"#00ff00","strokeWidth":4,"size":4956,"opacity":1,"angle":265,"strokeDash":[15.7,15.7]}},
{"data":{"name":"l4"},"mark":{"type":"rule","stroke":"#7e2f8e","strokeWidth":3.8},"encoding":{"x2":{"field":"x2"}}},
{"data":{"name":"l2"},"mark":{"type":"rule","stroke":"#b000b0","strokeWidth":3.8},"encoding":{"x2":{"field":"x2"}}},
{"data":{"name":"l4"},"mark":{"type":"rule","stroke":"#ffff00","strokeWidth":3.8,"strokeDash":[15.7,15.7],"strokeDashOffset":23.5},"encoding":{"x2":{"field":"x2"}}},
{"data":{"name":"l2"},"mark":{"type":"rule","stroke":"#ffff00","strokeWidth":3.8,"strokeDash":[15.7,15.7],"strokeDashOffset":15.7},"encoding":{"x2":{"field":"x2"}}},
{"data":{"name":"frame"},"mark":{"type":"point","opacity":0},"encoding":{"x":{"field":"x","type":"quantitative","scale":{"domain":[0,1]},"axis":{"values":[0,0.1,0.2,0.3,0.4,0.5,0.6,0.7,0.8,0.9,1],"format":"~g"}},"y":{"field":"y","type":"quantitative","scale":{"domain":[0,1]},"axis":{"values":[0,0.1,0.2,0.3,0.4,0.5,0.6,0.7,0.8,0.9,1],"format":"~g"}}}},
{"data":{"name":"frame"},"mark":{"type":"point","opacity":0},"encoding":{"x":{"field":"x","type":"quantitative","scale":{"domain":[0,1]},"axis":{"orient":"top","labels":false,"values":[0,0.1,0.2,0.3,0.4,0.5,0.6,0.7,0.8,0.9,1]}},"y":{"field":"y","type":"quantitative","scale":{"domain":[0,1]},"axis":{"orient":"right","labels":false,"values":[0,0.1,0.2,0.3,0.4,0.5,0.6,0.7,0.8,0.9,1]}}}}
]}],"spacing":0,"bounds":"flush"},
{"data":{"values":[]},"mark":"rect","width":362,"height":1},
{"vconcat":[{"data":{"values":[]},"mark":"rect","width":1,"height":1},{"width":17,"height":354,"data":{"values":[{"a":0,"b":1,"lo":0,"hi":0.08}]},"mark":{"type":"rect","stroke":"#a6a6a6","strokeWidth":1,"color":{"gradient":"linear","x1":0,"y1":1,"x2":0,"y2":0,"stops":[{"offset":0,"color":"#000000"},{"offset":1,"color":"#ffffff"}]}},"encoding":{"x":{"field":"a","type":"quantitative","scale":{"domain":[0,1]},"axis":null},"x2":{"field":"b"},"y":{"field":"lo","type":"quantitative","scale":{"domain":[0,0.08]},"axis":{"orient":"right","domain":false,"values":[0,0.01,0.02,0.03,0.04,0.05,0.06,0.07,0.08],"format":"~g"}},"y2":{"field":"hi"}}}],"spacing":0,"bounds":"flush"},
{"data":{"values":[]},"mark":"rect","width":62,"height":1},
{"vconcat":[{"data":{"values":[]},"mark":"rect","width":1,"height":3},{"width":351,"height":352,"view":{"fill":"#000000"},"encoding":{"x":{"field":"x","type":"quantitative","scale":{"domain":[0,1]},"axis":null},"y":{"field":"y","type":"quantitative","scale":{"domain":[0,1]},"axis":null}},"resolve":{"axis":{"x":"independent","y":"independent"}},"layer":[
{"data":{"name":"cb"},"mark":{"type":"line","order":null,"interpolate":"catmull-rom-closed","strokeWidth":0,"clip":true},"encoding":{"detail":{"field":"p"},"fill":{"field":"l","type":"quantitative","scale":{"domain":[0,10],"range":["#000000","#ffffff"]},"legend":null}}},
{"data":{"name":"big"},"mark":{"type":"point","filled":true,"fill":"#000000","stroke":"#d9531e","strokeWidth":4,"size":11088,"opacity":1}},
{"data":{"name":"big"},"mark":{"type":"point","filled":false,"stroke":"#0000ff","strokeWidth":4,"size":11088,"opacity":1,"angle":115,"strokeDash":[15.7,15.7],"strokeDashOffset":19}},
{"data":{"name":"small"},"mark":{"type":"point","filled":true,"fill":"#000000","stroke":"#ff0000","strokeWidth":4,"size":4928,"opacity":1}},
{"data":{"name":"small"},"mark":{"type":"point","filled":false,"stroke":"#00ff00","strokeWidth":4,"size":4928,"opacity":1,"angle":265,"strokeDash":[15.7,15.7]}},
{"data":{"name":"ll"},"mark":{"type":"rule","stroke":"#7e2f8e","strokeWidth":3.8},"encoding":{"x2":{"field":"x2"}}},
{"data":{"name":"l4"},"mark":{"type":"rule","stroke":"#ffff00","strokeWidth":3.8,"strokeDash":[15.7,15.7],"strokeDashOffset":23.5},"encoding":{"x2":{"field":"x2"}}},
{"data":{"name":"l2"},"mark":{"type":"rule","stroke":"#ffff00","strokeWidth":3.8,"strokeDash":[15.7,15.7],"strokeDashOffset":15.7},"encoding":{"x2":{"field":"x2"}}},
{"data":{"name":"frame"},"mark":{"type":"point","opacity":0},"encoding":{"x":{"field":"x","type":"quantitative","scale":{"domain":[0,1]},"axis":{"values":[0,0.1,0.2,0.3,0.4,0.5,0.6,0.7,0.8,0.9,1],"format":"~g"}},"y":{"field":"y","type":"quantitative","scale":{"domain":[0,1]},"axis":{"values":[0,0.1,0.2,0.3,0.4,0.5,0.6,0.7,0.8,0.9,1],"format":"~g"}}}},
{"data":{"name":"frame"},"mark":{"type":"point","opacity":0},"encoding":{"x":{"field":"x","type":"quantitative","scale":{"domain":[0,1]},"axis":{"orient":"top","labels":false,"values":[0,0.1,0.2,0.3,0.4,0.5,0.6,0.7,0.8,0.9,1]}},"y":{"field":"y","type":"quantitative","scale":{"domain":[0,1]},"axis":{"orient":"right","labels":false,"values":[0,0.1,0.2,0.3,0.4,0.5,0.6,0.7,0.8,0.9,1]}}}}
]}],"spacing":0,"bounds":"flush"},
{"data":{"values":[]},"mark":"rect","width":362,"height":1},
{"vconcat":[{"data":{"values":[]},"mark":"rect","width":1,"height":2},{"width":17,"height":354,"data":{"values":[{"a":0,"b":1,"lo":0,"hi":0.02}]},"mark":{"type":"rect","stroke":"#a6a6a6","strokeWidth":1,"color":{"gradient":"linear","x1":0,"y1":1,"x2":0,"y2":0,"stops":[{"offset":0,"color":"#000000"},{"offset":1,"color":"#ffffff"}]}},"encoding":{"x":{"field":"a","type":"quantitative","scale":{"domain":[0,1]},"axis":null},"x2":{"field":"b"},"y":{"field":"lo","type":"quantitative","scale":{"domain":[0,0.02]},"axis":{"orient":"right","domain":false,"values":[0,0.002,0.004,0.006,0.008,0.01,0.012,0.014,0.016,0.018,0.02],"format":"~g"}},"y2":{"field":"hi"}}}],"spacing":0,"bounds":"flush"}
],"spacing":0,"bounds":"flush"}
]}
